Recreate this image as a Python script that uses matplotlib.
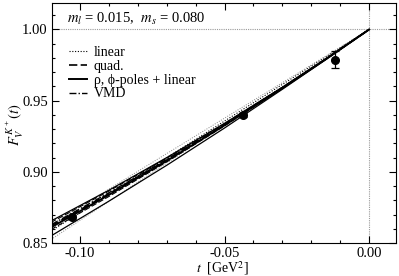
import matplotlib
matplotlib.use("Agg")
import matplotlib.pyplot as plt
from matplotlib.ticker import MultipleLocator

plt.rcParams["font.family"] = ["Liberation Serif", "DejaVu Serif"]
plt.rcParams["mathtext.fontset"] = "stix"

# ----- data -----
t_grid = [-0.11, -0.09, -0.07, -0.05, -0.03, -0.015, 0.0]

quad_c = [0.8620, 0.8846, 0.9083, 0.9331, 0.9590, 0.9792, 1.0]
quad_up = [0.8645, 0.8865, 0.9096, 0.9339, 0.9594, 0.9793, 1.0]
quad_lo = [0.8595, 0.8827, 0.9070, 0.9323, 0.9587, 0.9791, 1.0]

pole_c = [0.8610, 0.8838, 0.9077, 0.9327, 0.9588, 0.9791, 1.0]
pole_up = [0.8655, 0.8871, 0.9100, 0.9341, 0.9594, 0.9793, 1.0]
pole_lo = [0.8550, 0.8794, 0.9046, 0.9308, 0.9580, 0.9788, 1.0]

vmd = [0.8628, 0.8853, 0.9088, 0.9334, 0.9592, 0.9793, 1.0]

t_lin = [-0.11, 0.0]
lin_c = [0.8585, 1.0]
lin_up = [0.8630, 1.0]
lin_lo = [0.8525, 1.0]

t_data = [-0.1028, -0.0438, -0.0118]
f_data = [0.8684, 0.9398, 0.9788]
f_err = [0.0015, 0.0012, 0.0060]

# ----- canvas -----
fig = plt.figure(figsize=(3.99, 2.76), dpi=100)
ax = fig.add_axes([0.1303, 0.1196, 0.8622, 0.8695])
ax.set_xlim(-0.1097, 0.0093)
ax.set_ylim(0.85, 1.0186)

# reference lines at t=0 and F=1
ax.axhline(1.0, color="#999999", lw=0.8, ls=(0, (1, 1)), zorder=1)
ax.axvline(0.0, color="#999999", lw=0.8, ls=(0, (1, 1)), zorder=1)

# linear (dotted)
ax.plot(t_lin, lin_c, color="k", lw=0.8, ls=(0, (1, 1.5)), label="linear")
ax.plot(t_lin, lin_up, color="#888888", lw=0.7, ls=(0, (1, 1.5)))
ax.plot(t_lin, lin_lo, color="#888888", lw=0.7, ls=(0, (1, 1.5)))

# quadratic (dashed)
ax.plot(t_grid, quad_c, color="k", lw=1.2, ls=(0, (5, 2)), label="quad.")
ax.plot(t_grid, quad_up, color="k", lw=0.8, ls=(0, (5, 2)))
ax.plot(t_grid, quad_lo, color="k", lw=0.8, ls=(0, (5, 2)))

# poles + linear (solid)
ax.plot(t_grid, pole_c, color="k", lw=1.4, label="ρ, ϕ-poles + linear")
ax.plot(t_grid, pole_up, color="k", lw=0.9)
ax.plot(t_grid, pole_lo, color="k", lw=0.9)

# VMD (dash-dot)
ax.plot(t_grid, vmd, color="k", lw=1.0, ls=(0, (5, 1.5, 1, 1.5)), label="VMD")

ax.errorbar(t_data, f_data, yerr=f_err, fmt="o", color="k", ms=5.5,
            capsize=3, elinewidth=0.9, capthick=0.9, zorder=5)

# ----- ticks -----
ax.xaxis.set_major_locator(MultipleLocator(0.05))
ax.xaxis.set_minor_locator(MultipleLocator(0.01))
ax.yaxis.set_major_locator(MultipleLocator(0.05))
ax.yaxis.set_minor_locator(MultipleLocator(0.01))
ax.tick_params(which="both", direction="in", top=True, right=True,
               labelsize=10.5, width=0.8)
ax.tick_params(which="major", length=5, pad=3)
ax.tick_params(which="minor", length=2.5)
ax.xaxis.set_major_formatter(plt.FuncFormatter(lambda v, p: f"{v:.2f}"))
ax.yaxis.set_major_formatter(plt.FuncFormatter(lambda v, p: f"{v:.2f}"))
for s in ax.spines.values():
    s.set_linewidth(0.8)

fig.text(0.558, 0.03, r"$t$  [GeV$^2$]", fontsize=10, ha="center", va="center")
fig.text(0.038, 0.55, r"$F_V^{\,K^+}(t)$", fontsize=10.5, ha="center",
         va="center", rotation=90)

ax.text(0.045, 0.935, r"$m_l$ = 0.015,  $m_s$ = 0.080", transform=ax.transAxes,
        fontsize=10.5, ha="left", va="center")

ax.legend(loc="upper left", bbox_to_anchor=(0.02, 0.86), frameon=False,
          fontsize=10, handlelength=1.3, handletextpad=0.5,
          labelspacing=0.05, borderpad=0.2)

fig.savefig("out.png", dpi=100)
